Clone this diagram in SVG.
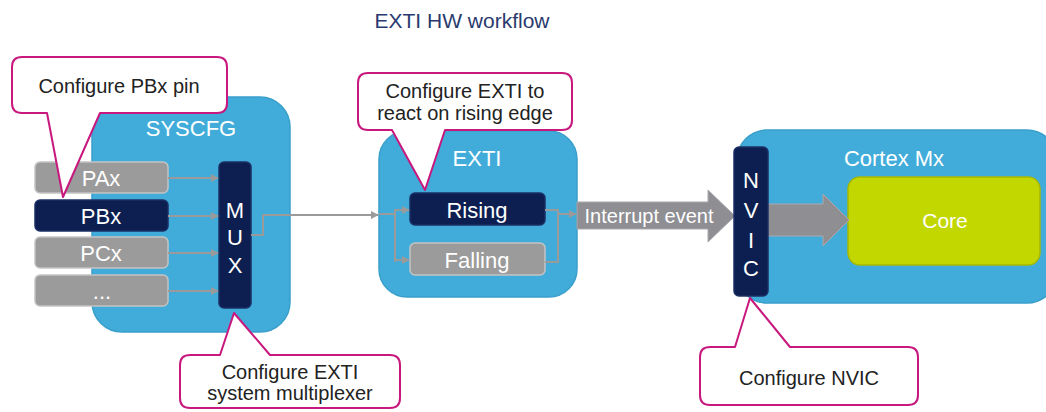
<svg xmlns="http://www.w3.org/2000/svg" width="1046" height="412" viewBox="0 0 1046 412">
  <style>
    .blk { fill: #41acd9; stroke: #3a9fcb; stroke-width: 1.5; }
    .pin { fill: #9b9b9b; stroke: #c4c4c4; stroke-width: 1.5; }
    .sel { fill: #0c1f50; stroke: #1b2f66; stroke-width: 1.5; }
    .call { fill: #ffffff; stroke: #c8187e; stroke-width: 2; stroke-linejoin: round; }
    .wt { font-family: "Liberation Sans", Arial, sans-serif; fill: #ffffff; text-anchor: middle; dominant-baseline: central; font-size: 22px; }
    .dk { font-family: "Liberation Sans", Arial, sans-serif; fill: #222222; text-anchor: middle; dominant-baseline: central; font-size: 20px; }
    .wire { fill: none; stroke: #9a9a9a; stroke-width: 2; }
    .big { fill: #8e8e93; stroke: #a8a8ad; stroke-width: 1; }
  </style>
  <defs>
    <marker id="ah" viewBox="0 0 10 10" refX="9" refY="5" markerWidth="4" markerHeight="4" orient="auto">
      <path d="M0,0 L10,5 L0,10 Z" fill="#9a9a9a"/>
    </marker>
  </defs>
  <rect width="1046" height="412" fill="#ffffff"/>

  <text x="462" y="20" font-family="Liberation Sans, Arial, sans-serif" font-size="21" fill="#2a3a6e" text-anchor="middle" dominant-baseline="central">EXTI HW workflow</text>

  <!-- SYSCFG block -->
  <g id="syscfg">
    <rect class="blk" x="92" y="97" width="198" height="235" rx="30"/>
    <text class="wt" x="191" y="128">SYSCFG</text>
  </g>

  <!-- port pins -->
  <g id="pin-pax">
    <rect class="pin" x="35" y="162" width="133" height="31" rx="5"/>
    <text class="wt" x="101" y="178">PAx</text>
  </g>
  <g id="pin-pbx">
    <rect class="sel" x="35" y="200" width="133" height="31" rx="5"/>
    <text class="wt" x="101" y="216">PBx</text>
  </g>
  <g id="pin-pcx">
    <rect class="pin" x="35" y="237" width="133" height="31" rx="5"/>
    <text class="wt" x="101" y="253">PCx</text>
  </g>
  <g id="pin-more">
    <rect class="pin" x="35" y="275" width="133" height="31" rx="5"/>
    <text class="wt" x="102" y="291">...</text>
  </g>

  <!-- multiplexer -->
  <g id="mux">
    <rect class="sel" x="219" y="162" width="32" height="146" rx="5"/>
    <text class="wt" x="235" y="210">M</text>
    <text class="wt" x="235" y="237">U</text>
    <text class="wt" x="235" y="265">X</text>
  </g>

  <!-- EXTI block -->
  <g id="exti">
    <rect class="blk" x="379" y="131" width="198" height="166" rx="28"/>
    <text class="wt" x="477" y="158">EXTI</text>
  </g>
  <g id="rising">
    <rect class="sel" x="410" y="193" width="135" height="32" rx="5"/>
    <text class="wt" x="477" y="210">Rising</text>
  </g>
  <g id="falling">
    <rect class="pin" x="410" y="243" width="135" height="32" rx="5"/>
    <text class="wt" x="477" y="260">Falling</text>
  </g>

  <!-- Cortex Mx block -->
  <g id="cortex">
    <rect class="blk" x="737" y="130" width="320" height="173" rx="30"/>
    <text class="wt" x="894" y="158">Cortex Mx</text>
  </g>
  <g id="core">
    <rect x="848" y="177" width="192" height="88" rx="12" fill="#c2d600" stroke="#a7b800" stroke-width="1.5"/>
    <text class="wt" x="945" y="220" style="font-size:21px">Core</text>
  </g>

  <!-- connectors -->
  <g id="connectors">
    <line class="wire" x1="168" y1="178" x2="218" y2="178" marker-end="url(#ah)"/>
    <line class="wire" x1="168" y1="216" x2="218" y2="216" marker-end="url(#ah)"/>
    <line class="wire" x1="168" y1="253" x2="218" y2="253" marker-end="url(#ah)"/>
    <line class="wire" x1="168" y1="291" x2="218" y2="291" marker-end="url(#ah)"/>
    <path class="wire" d="M251,235 H263 V215 H378" marker-end="url(#ah)"/>
    <path class="wire" d="M379,214 H395"/>
    <path class="wire" d="M395,262 V210 H409" marker-end="url(#ah)"/>
    <path class="wire" d="M395,260 H409" marker-end="url(#ah)"/>
    <path class="wire" d="M545,210 H558 V262 H545"/>
    <path class="wire" d="M558,214 H576" marker-end="url(#ah)"/>
    <path id="irq" class="big" d="M577,202 H708 V190 L735,216 L708,242 V229 H577 Z"/>
    <text class="wt" x="649" y="216" style="font-size:20px">Interrupt event</text>
    <path class="big" d="M768,204 H823 V194 L849,220 L823,246 V236 H768 Z"/>
  </g>

  <!-- NVIC drawn over the arrows -->
  <g id="nvic">
    <rect class="sel" x="734" y="147" width="34" height="149" rx="5"/>
    <text class="wt" x="751" y="180">N</text>
    <text class="wt" x="751" y="210">V</text>
    <text class="wt" x="751" y="240">I</text>
    <text class="wt" x="751" y="268">C</text>
  </g>

  <!-- callouts -->
  <g id="note-pbx">
    <path class="call" d="M22,57 H217 Q227,57 227,67 V103 Q227,113 217,113 H100 L63,197 L47,113 H22 Q12,113 12,103 V67 Q12,57 22,57 Z"/>
    <text class="dk" x="119" y="86">Configure PBx pin</text>
  </g>
  <g id="note-edge">
    <path class="call" d="M368,73 H562 Q572,73 572,83 V120 Q572,130 562,130 H445 L425,190 L392,130 H368 Q358,130 358,120 V83 Q358,73 368,73 Z"/>
    <text class="dk" x="465" y="91">Configure EXTI to</text>
    <text class="dk" x="465" y="113">react on rising edge</text>
  </g>
  <g id="note-mux">
    <path class="call" d="M190,355 H220 L234,313 L270,355 H390 Q400,355 400,365 V398 Q400,408 390,408 H190 Q180,408 180,398 V365 Q180,355 190,355 Z"/>
    <text class="dk" x="290" y="372">Configure EXTI</text>
    <text class="dk" x="290" y="393">system multiplexer</text>
  </g>
  <g id="note-nvic">
    <path class="call" d="M710,347 H735 L750,298 L790,347 H908 Q918,347 918,357 V395 Q918,405 908,405 H710 Q700,405 700,395 V357 Q700,347 710,347 Z"/>
    <text class="dk" x="809" y="378">Configure NVIC</text>
  </g>
</svg>
